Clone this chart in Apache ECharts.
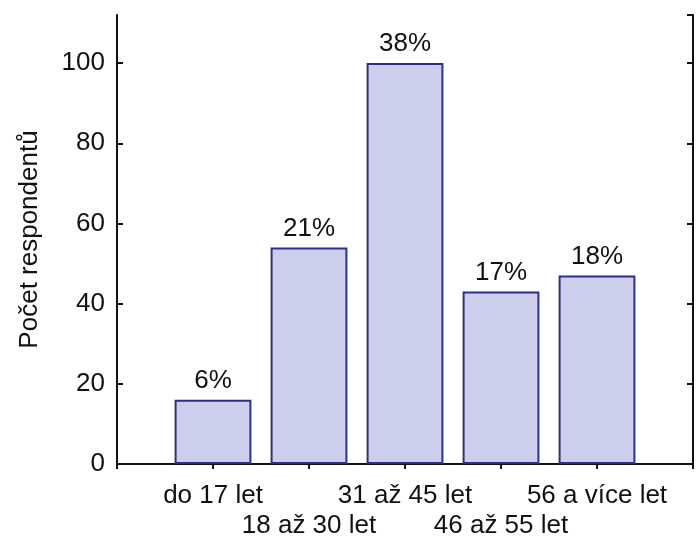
<!DOCTYPE html>
<html><head><meta charset="utf-8">
<script src="https://cdn.jsdelivr.net/npm/echarts@6/dist/echarts.min.js"></script>
<style>html,body{margin:0;padding:0;background:#fff}#c{width:696px;height:541px}</style>
</head><body><div id="c"></div>
<script>
var categories = ['do 17 let', '18 až 30 let', '31 až 45 let', '46 až 55 let', '56 a více let'];
var counts = [16, 54, 100, 43, 47];
var percents = ['6%', '21%', '38%', '17%', '18%'];
var yTicks = [0, 20, 40, 60, 80, 100];

var axisCats = [''].concat(categories, ['']);
var barData = [null].concat(counts.map(function (v, i) {
  return { value: v, label: { formatter: percents[i] } };
}), [null]);

var font = '"Liberation Sans", Arial, sans-serif';
var lineStyle = { color: '#111', width: 2 };
var chart = echarts.init(document.getElementById('c'));
chart.setOption({
  animation: false,
  grid: { left: 117, right: 2, top: 15, bottom: 75 },
  xAxis: [{
    type: 'category', data: axisCats, boundaryGap: false, position: 'bottom',
    axisLine: { lineStyle: lineStyle },
    axisTick: { inside: true, length: 5, lineStyle: { color: '#111', width: 2 } },
    axisLabel: {
      interval: 0, margin: 17, color: '#111', fontFamily: font, fontSize: 26, lineHeight: 30,
      formatter: function (v) {
        var idx = categories.indexOf(v);
        if (idx < 0) return '';
        return idx % 2 === 1 ? '\n' + v : v;
      }
    },
    splitLine: { show: false }
  }, {
    type: 'category', data: axisCats, boundaryGap: false, position: 'top',
    axisLine: { lineStyle: lineStyle },
    axisTick: { inside: true, length: 5, lineStyle: { color: '#111', width: 2 } },
    axisLabel: { show: false }, splitLine: { show: false }
  }],
  yAxis: [{
    type: 'value', min: 0, max: 112, interval: 20, position: 'left',
    name: 'Počet respondentů', nameLocation: 'middle', nameGap: 74, nameRotate: 90,
    nameTextStyle: { color: '#111', fontFamily: font, fontSize: 26 },
    axisLine: { show: true, lineStyle: lineStyle },
    axisTick: { show: true, inside: true, length: 6, lineStyle: { color: '#111', width: 2 } },
    axisLabel: {
      color: '#111', fontFamily: font, fontSize: 26, margin: 12, showMaxLabel: false,
      formatter: function (v) { return yTicks.indexOf(v) >= 0 ? String(v) : ''; }
    },
    splitLine: { show: false }
  }, {
    type: 'value', min: 0, max: 112, interval: 20, position: 'right',
    axisLine: { show: true, lineStyle: lineStyle },
    axisTick: { show: true, inside: true, length: 6, lineStyle: { color: '#111', width: 2 } },
    axisLabel: { show: false }, splitLine: { show: false }
  }],
  series: [{
    type: 'bar', data: barData, barWidth: '80%', xAxisIndex: 0, yAxisIndex: 0,
    itemStyle: { color: '#cbcfec', borderColor: '#2c2f8a', borderWidth: 2 },
    label: { show: true, position: 'top', distance: 6, color: '#111', fontFamily: font, fontSize: 26 }
  }]
});
</script></body></html>
